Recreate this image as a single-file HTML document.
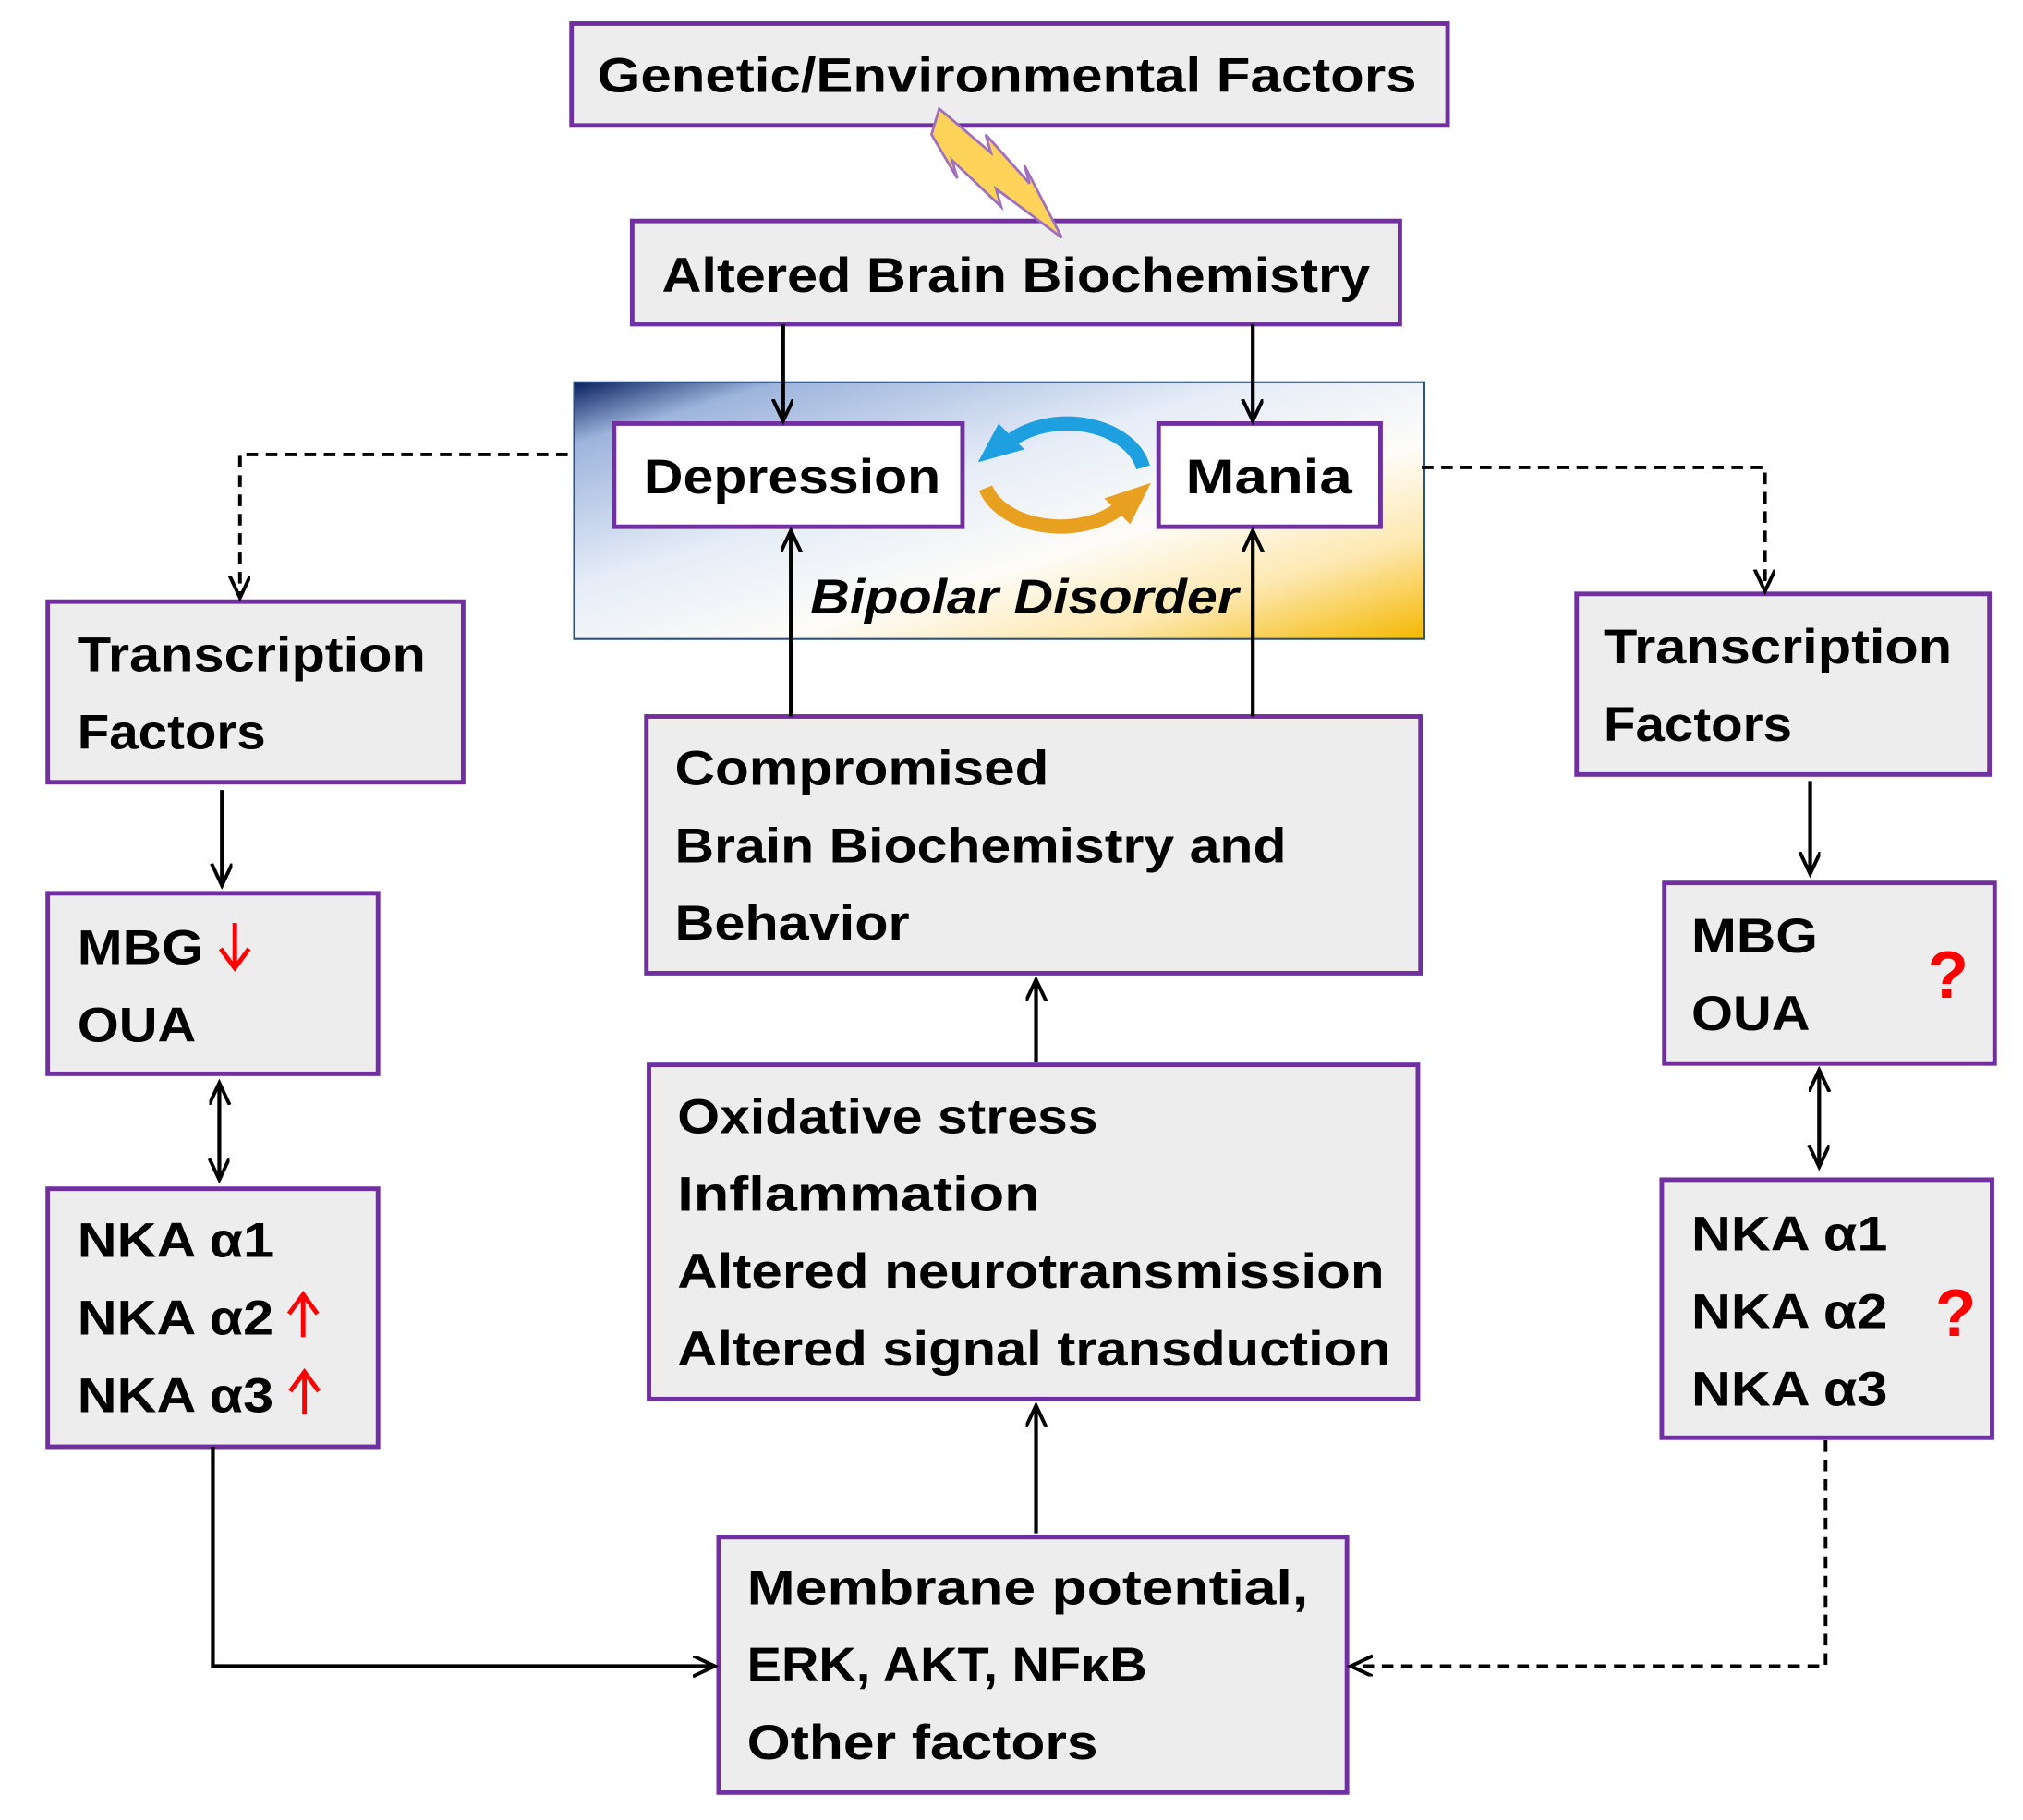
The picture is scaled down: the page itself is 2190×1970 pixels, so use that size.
<!DOCTYPE html>
<html><head><meta charset="utf-8"><style>html,body{margin:0;padding:0;background:#fff}svg{display:block}</style></head>
<body>
<svg width="2190" height="1970" viewBox="0 0 1568 1410" xmlns="http://www.w3.org/2000/svg" font-family="Liberation Sans, sans-serif" font-weight="bold" font-size="38">
<defs>
<linearGradient id="bg" x1="0" y1="0" x2="1" y2="1">
<stop offset="0" stop-color="#0a2060"/>
<stop offset="0.12" stop-color="#9db4dc"/>
<stop offset="0.4" stop-color="#e6edf8"/>
<stop offset="0.62" stop-color="#fdfcf8"/>
<stop offset="0.8" stop-color="#fde8b0"/>
<stop offset="1" stop-color="#f5b800"/>
</linearGradient>
<marker id="a" markerWidth="20" markerHeight="20" refX="16" refY="8" orient="auto-start-reverse" markerUnits="userSpaceOnUse"><path d="M0,0 L17,8 L0,16" fill="none" stroke="#000" stroke-width="2.8"/></marker>
</defs>
<g stroke="#7030a0" stroke-width="3.5" fill="#ededed">
<rect x="443" y="18" width="679" height="79"/>
<rect x="490" y="171" width="595" height="80"/>
<rect x="501" y="555" width="600" height="199"/>
<rect x="503" y="825" width="596" height="259"/>
<rect x="557" y="1191" width="487" height="198"/>
<rect x="37" y="466" width="322" height="140"/>
<rect x="37" y="692" width="256" height="140"/>
<rect x="37" y="921" width="256" height="200"/>
<rect x="1222" y="460" width="320" height="140"/>
<rect x="1290" y="684" width="256" height="140"/>
<rect x="1288" y="914" width="256" height="200"/>
</g>
<rect x="445" y="296" width="659" height="199" fill="url(#bg)" stroke="#2f4f7f" stroke-width="1.5"/>
<g stroke="#7030a0" stroke-width="3.5" fill="#fff">
<rect x="476" y="328" width="270" height="80"/>
<rect x="898" y="328" width="172" height="80"/>
</g>
<!-- lightning -->
<path d="M728,84 L768,118 L764,104 L798,142 L794,128 L823,184 L772,146 L776,160 L738,124 L742,138 L722,104 Z" fill="#fdd35a" stroke="#a070c0" stroke-width="2"/>
<!-- cycle arrows -->
<path d="M886,362 A60,42 0 0 0 785,340" fill="none" stroke="#1ea0e0" stroke-width="11"/>
<path d="M758,358 L774,328 L794,348 Z" fill="#1ea0e0"/>
<path d="M764,378 A60,40 0 0 0 866,395" fill="none" stroke="#e8a020" stroke-width="11"/>
<path d="M892,374 L876,406 L856,386 Z" fill="#e8a020"/>
<g stroke="#000" stroke-width="3" fill="none">
<line x1="607" y1="251" x2="607" y2="325" marker-end="url(#a)"/>
<line x1="971" y1="251" x2="971" y2="325" marker-end="url(#a)"/>
<line x1="613" y1="555" x2="613" y2="412" marker-end="url(#a)"/>
<line x1="971" y1="555" x2="971" y2="412" marker-end="url(#a)"/>
<line x1="803" y1="823" x2="803" y2="760" marker-end="url(#a)"/>
<line x1="803" y1="1188" x2="803" y2="1090" marker-end="url(#a)"/>
<line x1="172" y1="612" x2="172" y2="685" marker-end="url(#a)"/>
<line x1="170" y1="840" x2="170" y2="913" marker-start="url(#a)" marker-end="url(#a)"/>
<line x1="1403" y1="605" x2="1403" y2="676" marker-end="url(#a)"/>
<line x1="1410" y1="830" x2="1410" y2="903" marker-start="url(#a)" marker-end="url(#a)"/>
<polyline points="165,1121 165,1291 553,1291" marker-end="url(#a)"/>
<g stroke-dasharray="9,6" stroke-width="2.8">
<polyline points="440,352 186,352 186,462" marker-end="url(#a)"/>
<polyline points="1102,362 1368,362 1368,457" marker-end="url(#a)"/>
<polyline points="1415,1116 1415,1291 1048,1291" marker-end="url(#a)"/>
</g>
</g>
<g fill="#000">
<text x="463" y="71" textLength="635" lengthAdjust="spacingAndGlyphs">Genetic/Environmental Factors</text>
<text x="513" y="226" textLength="549" lengthAdjust="spacingAndGlyphs">Altered Brain Biochemistry</text>
<text x="499" y="382" textLength="230" lengthAdjust="spacingAndGlyphs">Depression</text>
<text x="919" y="382" textLength="129" lengthAdjust="spacingAndGlyphs">Mania</text>
<text x="628" y="475" font-style="italic" textLength="332" lengthAdjust="spacingAndGlyphs">Bipolar Disorder</text>
<text x="523" y="608" textLength="290" lengthAdjust="spacingAndGlyphs">Compromised</text>
<text x="523" y="668" textLength="474" lengthAdjust="spacingAndGlyphs">Brain Biochemistry and</text>
<text x="523" y="728" textLength="182" lengthAdjust="spacingAndGlyphs">Behavior</text>
<text x="525" y="878" textLength="326" lengthAdjust="spacingAndGlyphs">Oxidative stress</text>
<text x="525" y="938" textLength="281" lengthAdjust="spacingAndGlyphs">Inflammation</text>
<text x="525" y="998" textLength="548" lengthAdjust="spacingAndGlyphs">Altered neurotransmission</text>
<text x="525" y="1058" textLength="553" lengthAdjust="spacingAndGlyphs">Altered signal transduction</text>
<text x="579" y="1243" textLength="435" lengthAdjust="spacingAndGlyphs">Membrane potential,</text>
<text x="579" y="1303" textLength="310" lengthAdjust="spacingAndGlyphs">ERK, AKT, NFκB</text>
<text x="579" y="1363" textLength="272" lengthAdjust="spacingAndGlyphs">Other factors</text>
<text x="60" y="520" textLength="270" lengthAdjust="spacingAndGlyphs">Transcription</text>
<text x="60" y="580" textLength="146" lengthAdjust="spacingAndGlyphs">Factors</text>
<text x="60" y="747" textLength="98" lengthAdjust="spacingAndGlyphs">MBG</text>
<text x="60" y="807" textLength="92" lengthAdjust="spacingAndGlyphs">OUA</text>
<text x="60" y="974" textLength="152" lengthAdjust="spacingAndGlyphs">NKA α1</text>
<text x="60" y="1034" textLength="152" lengthAdjust="spacingAndGlyphs">NKA α2</text>
<text x="60" y="1094" textLength="152" lengthAdjust="spacingAndGlyphs">NKA α3</text>
<text x="1243" y="514" textLength="270" lengthAdjust="spacingAndGlyphs">Transcription</text>
<text x="1243" y="574" textLength="146" lengthAdjust="spacingAndGlyphs">Factors</text>
<text x="1311" y="738" textLength="98" lengthAdjust="spacingAndGlyphs">MBG</text>
<text x="1311" y="798" textLength="92" lengthAdjust="spacingAndGlyphs">OUA</text>
<text x="1311" y="969" textLength="152" lengthAdjust="spacingAndGlyphs">NKA α1</text>
<text x="1311" y="1029" textLength="152" lengthAdjust="spacingAndGlyphs">NKA α2</text>
<text x="1311" y="1089" textLength="152" lengthAdjust="spacingAndGlyphs">NKA α3</text>
</g>
<g fill="#f00" font-size="52">
<text x="1494" y="773">?</text>
<text x="1500" y="1035">?</text>
</g>
<g stroke="#f00" stroke-width="3.5" fill="none">
<line x1="182" y1="715" x2="182" y2="749"/><polyline points="171,735 182,750 193,735"/>
<line x1="235" y1="1036" x2="235" y2="1004"/><polyline points="224,1018 235,1003 246,1018"/>
<line x1="236" y1="1096" x2="236" y2="1064"/><polyline points="225,1078 236,1063 247,1078"/>
</g>
</svg>
</body></html>
